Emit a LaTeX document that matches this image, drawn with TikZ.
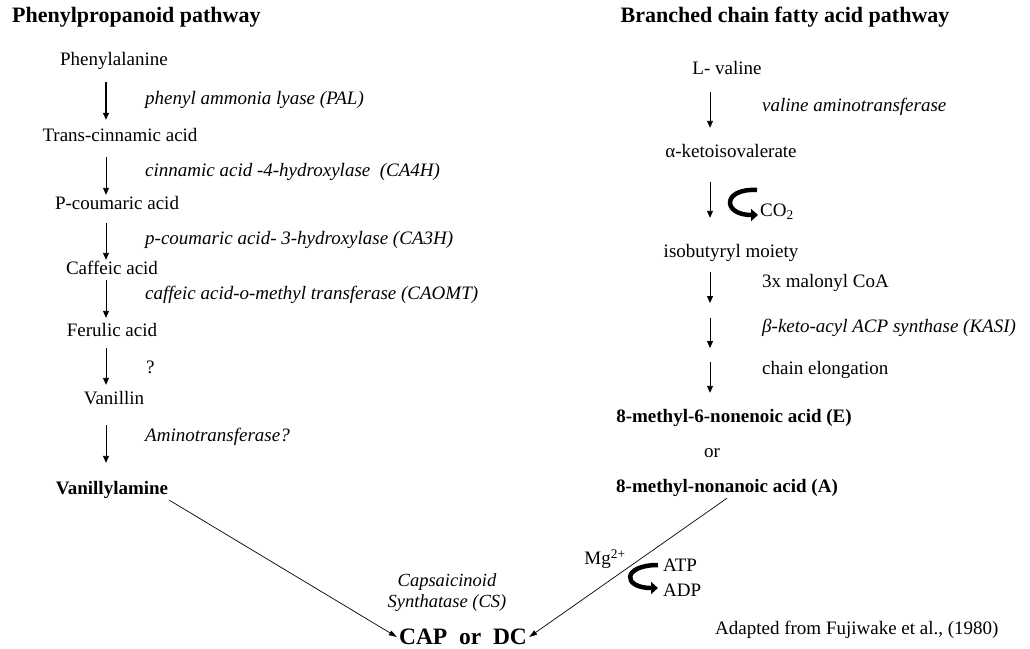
\documentclass[tikz,border=0pt]{standalone}
\usepackage{fontspec}
\setmainfont{Liberation Serif}
\usetikzlibrary{arrows.meta}

\begin{document}
\begin{tikzpicture}[x=1pt,y=-1pt,
  cpd/.style={font=\fontsize{19}{22}\selectfont, text height=12pt, text depth=4pt, inner xsep=1pt, inner ysep=2pt},
  keycpd/.style={cpd, font=\fontsize{19}{22}\selectfont\bfseries},
  enz/.style={anchor=west, font=\fontsize{19}{22}\selectfont\itshape, inner sep=0pt},
  note/.style={anchor=west, font=\fontsize{19}{22}\selectfont, inner sep=0pt},
  head/.style={font=\fontsize{22}{24}\selectfont\bfseries, inner sep=0pt},
  stepline/.style={-{Triangle[length=7pt,width=6pt]}, line width=0.9pt},
  joinline/.style={-{Triangle[length=8pt,width=5pt]}, line width=0.7pt},
  turn/.style={-{Triangle[length=7pt,width=12pt]}, line width=4.5pt}]
\useasboundingbox (0,0) rectangle (1030,648);

\node[head, anchor=west] (hl) at (12,17) {Phenylpropanoid pathway};
\node[head] (hr) at (785,17) {Branched chain fatty acid pathway};

\coordinate (colL) at (106,0);
\node[cpd] (phe) at (114,61) {Phenylalanine};
\node[cpd] (tca) at (120,137) {Trans-cinnamic acid};
\node[cpd] (pca) at (117,205) {P-coumaric acid};
\node[cpd] (caf) at (112,270) {Caffeic acid};
\node[cpd] (fer) at (112,332) {Ferulic acid};
\node[cpd] (van) at (114,400) {Vanillin};
\node[keycpd] (vam) at (112,490) {Vanillylamine};

\node[enz] (pal) at (145,100) {phenyl ammonia lyase (PAL)};
\node[enz] (ca4h) at (145,172) {cinnamic acid -4-hydroxylase\ \ (CA4H)};
\node[enz] (ca3h) at (145,240) {p-coumaric acid- 3-hydroxylase (CA3H)};
\node[enz] (caomt) at (145,295) {caffeic acid-o-methyl transferase (CAOMT)};
\node[note] (unk) at (146,367) {?};
\node[enz] (amt) at (145,437) {Aminotransferase?};

\draw[stepline, line width=1.6pt, shorten <=11pt, shorten >=7pt] (phe.south -| colL) -- (tca.north -| colL);
\draw[stepline, shorten <=10pt] (tca.south -| colL) -- (pca.north -| colL);
\draw[stepline, shorten <=8pt] (pca.south -| colL) -- (caf.north -| colL);
\draw[stepline, shorten >=4pt] (caf.south -| colL) -- (fer.north -| colL);
\draw[stepline, shorten <=6pt, shorten >=5pt] (fer.south -| colL) -- (van.north -| colL);
\draw[stepline, shorten <=15pt, shorten >=17pt] (van.south -| colL) -- (vam.north -| colL);

\coordinate (colR) at (710,0);
\coordinate (m1) at (710,310);
\coordinate (m2) at (710,355);
\node[cpd] (lval) at (727,70) {L- valine};
\node[cpd] (keto) at (731,153) {α-ketoisovalerate};
\node[cpd] (iso) at (731,253) {isobutyryl moiety};
\node[keycpd] (nonE) at (734,418) {8-methyl-6-nonenoic acid (E)};
\node[cpd] (orw) at (712,453) {or};
\node[keycpd] (nonA) at (727,488) {8-methyl-nonanoic acid (A)};

\node[enz] (vat) at (762,107) {valine aminotransferase};
\node[note] (co2) at (760,212) {CO\textsubscript{2}};
\node[note] (mal) at (762,283) {3x malonyl CoA};
\node[enz] (kas) at (762,328) {β-keto-acyl ACP synthase (KASI)};
\node[note] (elo) at (762,370) {chain elongation};

\draw[stepline, shorten <=12pt, shorten >=15pt] (lval.south -| colR) -- (keto.north -| colR);
\draw[stepline, shorten <=19pt, shorten >=25pt] (keto.south -| colR) -- (iso.north -| colR);
\draw[stepline, shorten <=9pt, shorten >=7pt] (iso.south -| colR) -- (m1);
\draw[stepline, shorten <=8pt, shorten >=7pt] (m1) -- (m2);
\draw[stepline, shorten <=7pt, shorten >=15pt] (m2) -- (nonE.north -| colR);
\draw[turn] (757,190) .. controls (722,188) and (722,215) .. (758,215);

\node[font=\fontsize{23.5}{26}\selectfont\bfseries, inner sep=2pt] (cap) at (463,637) {CAP\ \ or\ \ DC};
\node[font=\fontsize{18.5}{21}\selectfont\itshape, align=center, inner sep=0pt] (cs) at (447,593) {Capsaicinoid\\Synthatase (CS)};
\draw[joinline] (vam.south east) -- (cap.west);
\draw[joinline] (nonA.south) -- (cap.east);

\node[font=\fontsize{19}{22}\selectfont, inner sep=0pt] (mg) at (605,559) {Mg\textsuperscript{2+}};
\node[note] (atp) at (663,565) {ATP};
\node[note] (adp) at (663,590) {ADP};
\draw[turn] (658,565) .. controls (622,565) and (622,588) .. (658,588);

\node[note] (src) at (715,630) {Adapted from Fujiwake et al., (1980)};
\end{tikzpicture}
\end{document}
